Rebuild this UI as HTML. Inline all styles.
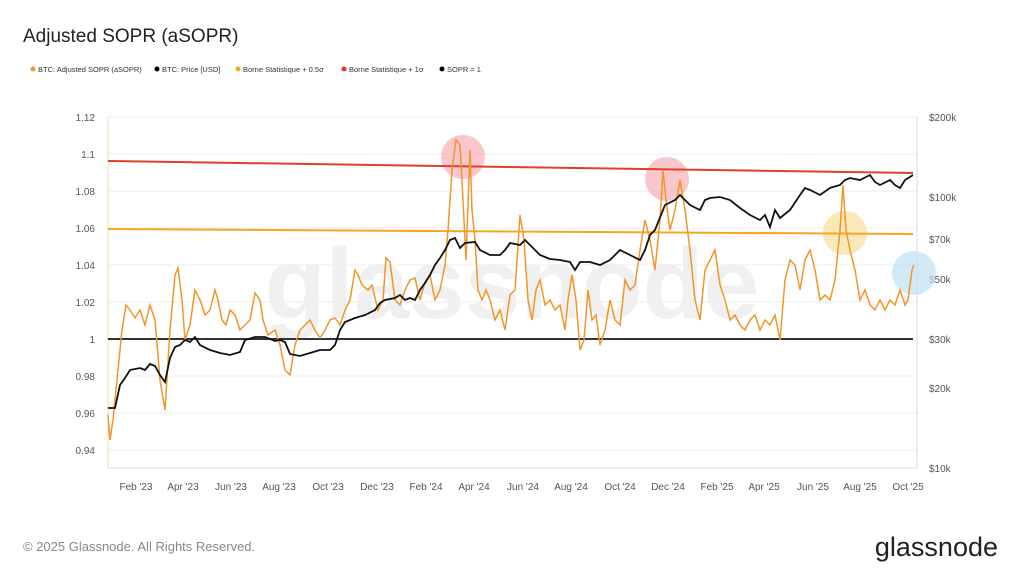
<!DOCTYPE html>
<html><head><meta charset="utf-8"><style>
body{margin:0;background:#fff;width:1024px;height:576px;overflow:hidden;font-family:"Liberation Sans",sans-serif}
</style></head><body>
<svg width="1024" height="576" xmlns="http://www.w3.org/2000/svg" font-family="Liberation Sans, sans-serif">
<text x="23" y="42" font-size="19" fill="#222">Adjusted SOPR (aSOPR)</text>
<g font-size="7.5" fill="#333">
<circle cx="33" cy="69" r="2.5" fill="#f0962a"/><text x="38" y="72">BTC: Adjusted SOPR (aSOPR)</text>
<circle cx="157" cy="69" r="2.5" fill="#000"/><text x="162" y="72">BTC: Price [USD]</text>
<circle cx="238" cy="69" r="2.5" fill="#f5a623"/><text x="243" y="72">Borne Statistique + 0.5σ</text>
<circle cx="344" cy="69" r="2.5" fill="#e53a1e"/><text x="349" y="72">Borne Statistique + 1σ</text>
<circle cx="442" cy="69" r="2.5" fill="#000"/><text x="447" y="72">SOPR = 1</text>
</g>
<g stroke="#eee" stroke-width="1">
<line x1="108" x2="917" y1="117" y2="117"/><line x1="108" x2="917" y1="154" y2="154"/><line x1="108" x2="917" y1="191" y2="191"/><line x1="108" x2="917" y1="228" y2="228"/><line x1="108" x2="917" y1="265" y2="265"/><line x1="108" x2="917" y1="302" y2="302"/><line x1="108" x2="917" y1="376" y2="376"/><line x1="108" x2="917" y1="413" y2="413"/><line x1="108" x2="917" y1="450" y2="450"/>
</g>
<line x1="108" y1="117" x2="108" y2="468" stroke="#f5d8b0"/>
<line x1="917" y1="117" x2="917" y2="468" stroke="#ddd"/>
<line x1="108" y1="468" x2="917" y2="468" stroke="#ddd"/>
<text x="512" y="318" font-size="100" fill="#f0f0f0" text-anchor="middle" font-weight="bold">glassnode</text>
<g font-size="10" fill="#555" text-anchor="end">
<text x="95" y="121">1.12</text><text x="95" y="158">1.1</text><text x="95" y="195">1.08</text><text x="95" y="232">1.06</text><text x="95" y="269">1.04</text><text x="95" y="306">1.02</text><text x="95" y="343">1</text><text x="95" y="380">0.98</text><text x="95" y="417">0.96</text><text x="95" y="454">0.94</text>
</g>
<g font-size="10" fill="#555">
<text x="929" y="121">$200k</text><text x="929" y="201">$100k</text><text x="929" y="243">$70k</text><text x="929" y="283">$50k</text><text x="929" y="343">$30k</text><text x="929" y="392">$20k</text><text x="929" y="472">$10k</text>
</g>
<g font-size="10" fill="#555" text-anchor="middle">
<text x="136" y="490">Feb '23</text><text x="183" y="490">Apr '23</text><text x="231" y="490">Jun '23</text><text x="279" y="490">Aug '23</text><text x="328" y="490">Oct '23</text><text x="377" y="490">Dec '23</text><text x="426" y="490">Feb '24</text><text x="474" y="490">Apr '24</text><text x="523" y="490">Jun '24</text><text x="571" y="490">Aug '24</text><text x="620" y="490">Oct '24</text><text x="668" y="490">Dec '24</text><text x="717" y="490">Feb '25</text><text x="764" y="490">Apr '25</text><text x="813" y="490">Jun '25</text><text x="860" y="490">Aug '25</text><text x="908" y="490">Oct '25</text>
</g>
<circle cx="463" cy="157" r="22" fill="#f4a0a8" opacity="0.6"/>
<circle cx="667" cy="179" r="22" fill="#f4a0a8" opacity="0.6"/>
<circle cx="845" cy="233" r="22" fill="#f8d88a" opacity="0.6"/>
<circle cx="914" cy="273" r="22" fill="#bfe0f5" opacity="0.7"/>
<line x1="108" y1="161" x2="913" y2="173" stroke="#e0402a" stroke-width="2"/>
<line x1="108" y1="229" x2="913" y2="234" stroke="#f5a623" stroke-width="2"/>
<line x1="108" y1="339" x2="913" y2="339" stroke="#333" stroke-width="2"/>
<polyline fill="none" stroke="#f0962a" stroke-width="1.5" points="108,415 110,440 113,420 118,370 122,330 126,305 130,310 135,318 140,310 145,325 150,305 155,320 160,380 165,410 170,330 175,275 178,268 182,300 185,340 190,325 195,290 200,300 205,315 210,310 215,290 218,300 222,320 226,325 230,310 235,315 240,330 245,325 250,320 255,293 260,300 263,320 268,335 275,330 280,345 285,370 290,375 295,345 300,330 305,325 310,320 315,330 320,338 325,330 330,320 335,318 340,325 345,310 350,300 355,270 358,275 362,285 368,290 372,285 378,310 383,300 386,258 390,262 395,300 400,305 405,290 410,280 415,278 420,300 425,282 430,275 435,300 440,290 445,265 448,230 452,170 456,140 460,145 463,200 466,260 470,150 472,210 475,240 478,290 482,300 486,290 490,300 495,320 500,310 505,330 510,295 515,290 520,215 524,240 528,300 532,320 536,290 540,280 545,305 550,300 555,310 560,305 565,330 568,300 572,275 576,300 580,350 584,340 588,290 592,320 596,315 600,345 605,330 610,300 615,320 620,325 625,280 630,290 635,285 640,250 645,220 650,240 655,270 660,220 663,170 666,200 670,230 675,210 680,180 685,210 690,250 695,300 700,320 705,270 710,260 715,250 720,285 725,300 730,320 735,315 740,325 745,330 750,320 755,315 760,330 765,320 770,325 775,315 780,340 785,280 790,260 795,265 800,290 805,260 810,250 815,270 820,300 825,295 830,300 835,280 840,230 843,185 846,230 850,250 855,270 860,300 865,290 870,305 875,310 880,300 885,310 890,300 895,305 900,290 905,305 908,300 912,270 914,265"/>
<polyline fill="none" stroke="#111" stroke-width="1.8" points="108,408 115,408 120,385 125,378 130,370 140,368 145,370 150,364 155,366 160,375 165,382 170,358 175,347 180,345 185,340 190,342 195,337 200,345 210,350 220,353 230,355 240,352 245,340 255,337 265,337 275,341 280,340 285,342 290,354 300,356 310,353 320,350 330,350 335,345 340,330 345,322 355,318 365,315 375,310 380,303 385,300 395,298 400,295 405,300 410,298 415,300 420,290 425,283 430,275 435,265 440,258 445,250 450,240 455,238 460,248 465,243 475,242 480,250 490,255 500,255 505,250 510,243 520,245 525,240 530,245 540,255 550,259 560,260 570,262 575,270 580,262 590,262 600,265 610,260 620,250 630,255 640,260 645,250 650,235 655,230 665,205 675,200 680,195 690,205 700,210 705,200 710,198 720,197 730,200 740,208 750,215 760,220 765,215 770,227 775,210 780,218 790,210 800,195 805,188 810,190 820,195 830,188 840,185 845,180 850,178 860,180 870,175 875,182 880,185 890,180 895,185 900,188 905,180 910,177 913,175"/>
<text x="23" y="551" font-size="13" fill="#888">© 2025 Glassnode. All Rights Reserved.</text>
<text x="998" y="556" font-size="27" fill="#222" text-anchor="end">glassnode</text>
</svg>
</body></html>
